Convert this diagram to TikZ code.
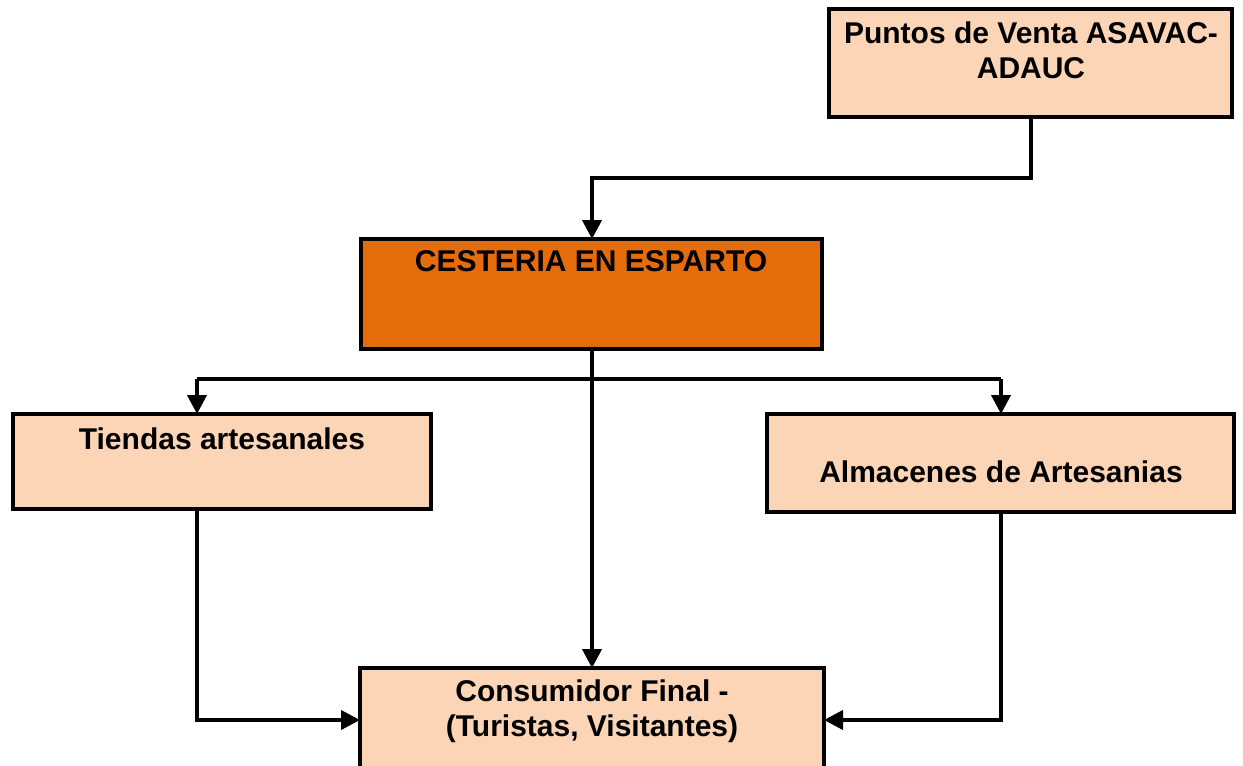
\documentclass[tikz,border=0pt]{standalone}
\usepackage{fontspec}
\setmainfont{Liberation Sans}
\usetikzlibrary{arrows.meta}
\definecolor{lightor}{HTML}{FBD5B5}
\definecolor{darkor}{HTML}{E46C0A}
\tikzset{
  box/.style={draw=black, line width=4pt, fill=lightor, rectangle, outer sep=0pt, inner sep=0pt},
  darkbox/.style={box, fill=darkor},
  txt/.style={font=\fontsize{30}{35}\selectfont\bfseries, align=center, inner sep=0pt, anchor=base},
  arr/.style={line width=4pt, -{Triangle[width=19pt,length=19pt]}},
  ln/.style={line width=4pt}
}
\begin{document}
\begin{tikzpicture}[x=1pt,y=-1pt]
\useasboundingbox (0,0) rectangle (1243,766);
\clip (0,0) rectangle (1243,766);
\node[box, minimum width=403pt, minimum height=108pt] (p) at (1030.5,63) {};
\node[darkbox, minimum width=461pt, minimum height=110pt] (c) at (591,294) {};
\node[box, minimum width=418pt, minimum height=95pt] (t) at (222,461.5) {};
\node[box, minimum width=467pt, minimum height=98pt] (a) at (1000.5,463) {};
\node[box, minimum width=464pt, minimum height=140pt] (f) at (592,738) {};
\node[txt] (pt) at (1031,78.5) {Puntos de Venta ASAVAC-\\ADAUC};
\node[txt] (ct) at (591,271) {CESTERIA EN ESPARTO};
\node[txt] (tt) at (222,449) {Tiendas artesanales};
\node[txt] (at) at (1001,482) {Almacenes de Artesanias};
\node[txt] (ft) at (592,736) {Consumidor Final -\\(Turistas, Visitantes)};
\coordinate (pj) at (1031,178);
\coordinate (cj) at (592,178);
\draw[arr] (p.south -| pj) -- (pj) -- (cj) -- (c.north -| cj);
\coordinate (tj) at (197,379);
\coordinate (aj) at (1001,379);
\draw[arr] (c.south -| cj) -- (f.north -| cj);
\draw[ln] (tj) -- (aj);
\draw[arr] (tj) -- (t.north -| tj);
\draw[arr] (aj) -- (a.north -| aj);
\coordinate (tb) at (197,720);
\coordinate (ab) at (1001,720);
\draw[arr] (t.south -| tb) -- (tb) -- (f.west |- tb);
\draw[arr] (a.south -| ab) -- (ab) -- (f.east |- ab);
\end{tikzpicture}
\end{document}
